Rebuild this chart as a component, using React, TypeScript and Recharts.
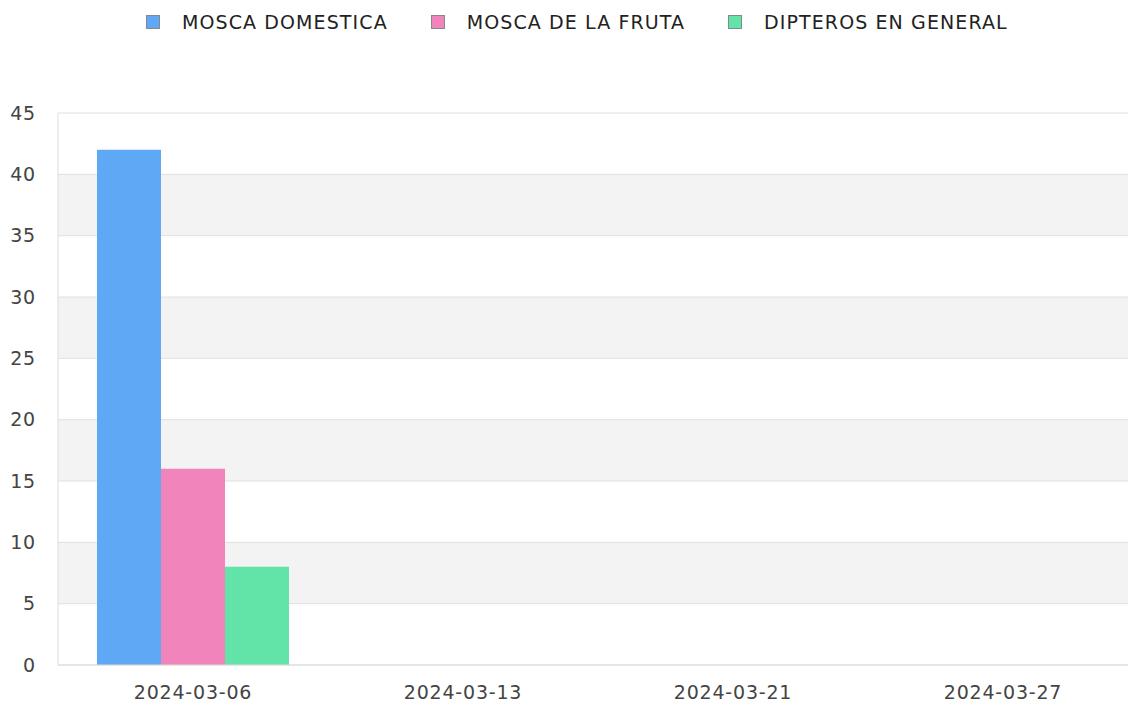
import React from 'react';
import { BarChart, Bar, XAxis, YAxis, CartesianGrid, Legend } from 'recharts';

// fechas de muestreo
const fechas = ['2024-03-06', '2024-03-13', '2024-03-21', '2024-03-27'];
// capturas por tipo de insecto
const moscaDomestica = [42, 0, 0, 0];
const moscaFruta = [16, 0, 0, 0];
const dipterosGeneral = [8, 0, 0, 0];
const yTicks = [0, 5, 10, 15, 20, 25, 30, 35, 40, 45];

const series = [
  { key: 'domestica', name: 'MOSCA DOMESTICA', color: '#5fa8f5' },
  { key: 'fruta', name: 'MOSCA DE LA FRUTA', color: '#f184ba' },
  { key: 'dipteros', name: 'DIPTEROS EN GENERAL', color: '#62e4a8' },
];

const data = fechas.map((fecha, i) => ({
  fecha,
  domestica: moscaDomestica[i],
  fruta: moscaFruta[i],
  dipteros: dipterosGeneral[i],
}));

const FONT = '"DejaVu Sans", sans-serif';

function LegendContent() {
  return (
    <div style={{ height: 113, boxSizing: 'border-box', paddingTop: 10, paddingLeft: 146, display: 'flex', alignItems: 'flex-start' }}>
      {series.map((s, i) => (
        <div key={s.key} style={{ display: 'flex', alignItems: 'center', marginRight: i < series.length - 1 ? 43 : 0 }}>
          <span style={{ width: 12, height: 12, background: s.color, border: '1px solid #888', display: 'inline-block', marginRight: 22 }} />
          <span style={{ fontSize: 19, color: '#222', fontFamily: FONT, lineHeight: '24px', letterSpacing: 1.1 }}>{s.name}</span>
        </div>
      ))}
    </div>
  );
}

export default function App() {
  return (
    <div style={{ position: 'absolute', left: 0, top: 0, width: 1128, height: 706, overflow: 'hidden', background: '#fff', fontFamily: FONT }}>
      <BarChart
        width={1138}
        height={706}
        data={data}
        margin={{ top: 0, right: 0, bottom: 0, left: 0 }}
        barCategoryGap="14%"
        barGap={0}
        barSize={64}
      >
        <CartesianGrid
          vertical={false}
          stroke="#e0e0e0"
          horizontalFill={['#ffffff', '#f3f3f3']}
        />
        <XAxis
          dataKey="fecha"
          height={41}
          tickLine={false}
          tickSize={19}
          tickMargin={2}
          axisLine={{ stroke: '#dddddd' }}
          tick={{ fontSize: 19, fill: '#444', fontFamily: FONT, letterSpacing: 0.8 }}
          interval={0}
        />
        <YAxis
          width={58}
          domain={[0, 45]}
          ticks={yTicks}
          tickLine={false}
          tickSize={20}
          tickMargin={2}
          axisLine={{ stroke: '#dddddd' }}
          tick={{ fontSize: 19, fill: '#444', fontFamily: FONT, letterSpacing: 0.8 }}
        />
        <Legend verticalAlign="top" wrapperStyle={{ top: 0, left: 0, width: 1128 }} content={() => <LegendContent />} />
        {series.map(s => (
          <Bar key={s.key} dataKey={s.key} name={s.name} fill={s.color} isAnimationActive={false} />
        ))}
      </BarChart>
    </div>
  );
}
